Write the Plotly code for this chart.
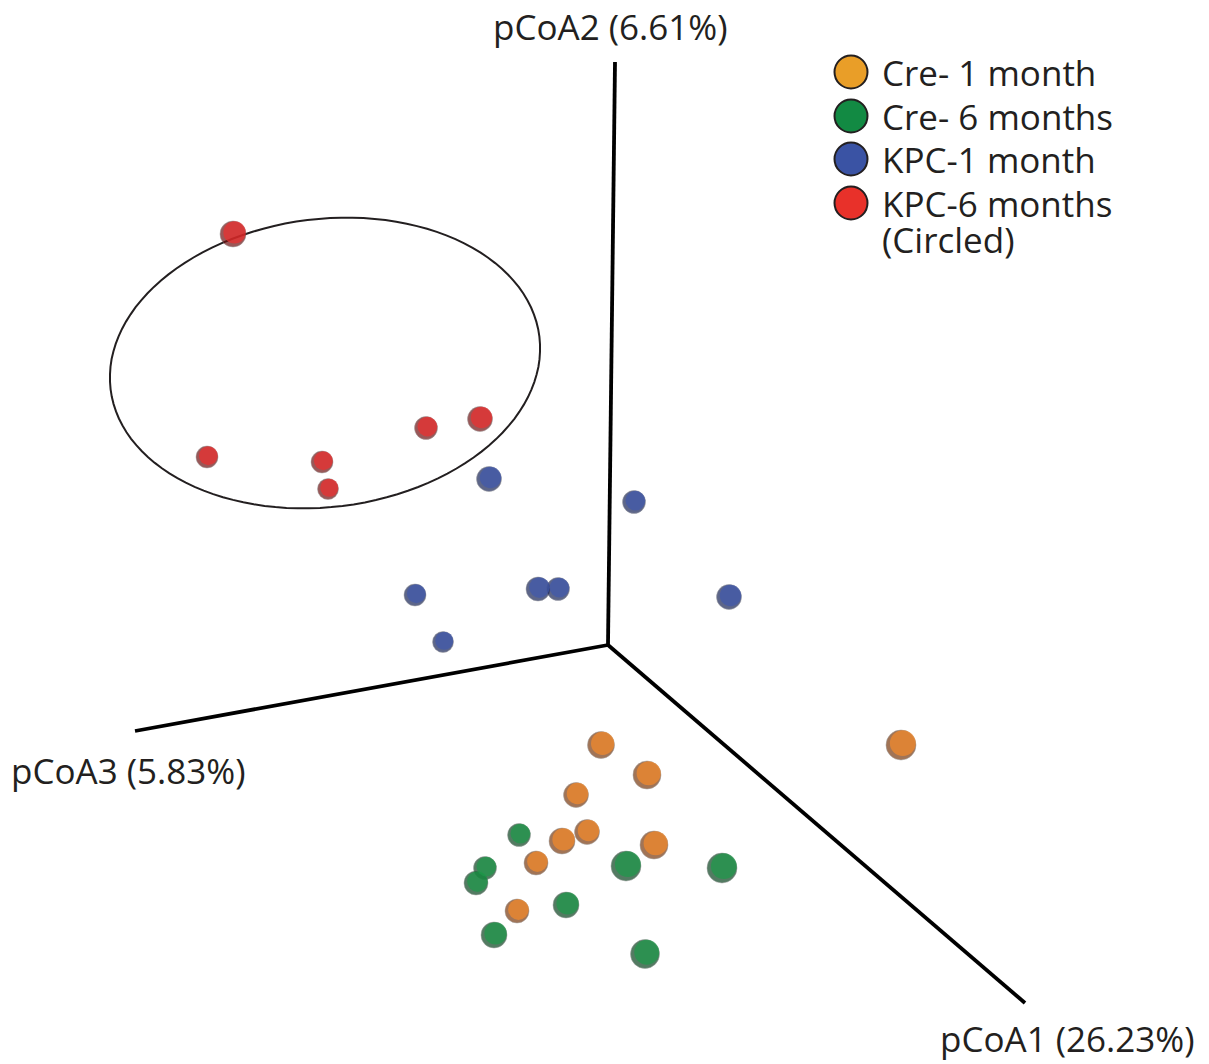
import numpy as np
import plotly.graph_objects as go

W, H = 1209, 1064
PAD = 8  # page body margin

# ---- data (projected positions, px) ----
groups = ["Cre- 1 month", "Cre- 6 months", "KPC-1 month", "KPC-6 months"]
legend_labels = ["Cre- 1 month", "Cre- 6 months", "KPC-1 month", "KPC-6 months"]
legend_note = "(Circled)"

cre1_x = [601, 647, 576, 587, 562, 654, 536, 517, 901]
cre1_y = [745, 775, 795, 832, 841, 845, 863, 911, 745]
cre1_d = [27, 28, 25, 25, 26, 28, 24, 24, 30]

cre6_x = [519, 485, 476, 626, 722, 566, 494, 645]
cre6_y = [835, 868, 883, 866, 868, 905, 935, 954]
cre6_d = [23, 23, 24, 30, 30, 26, 26, 29]

kpc1_x = [489, 634, 415, 538, 558, 443, 729]
kpc1_y = [479, 502, 595, 589, 589, 642, 597]
kpc1_d = [25, 23, 22, 24, 23, 21, 25]

kpc6_x = [233, 207, 322, 328, 426, 480]
kpc6_y = [234, 457, 462, 489, 428, 419]
kpc6_d = [26, 22, 22, 21, 23, 25]

axis_names = ["pCoA1 (26.23%)", "pCoA2 (6.61%)", "pCoA3 (5.83%)"]
origin = (608, 645)
axis_ends_x = [1025, 615, 135]
axis_ends_y = [1003, 62, 731]

sphere_colors = ["#F58A2A", "#1E9A4A", "#4059AC", "#EE2D2D"]
sphere_shadow = ["#7A3A10", "#0B4420", "#1A2658", "#6E1212"]
legend_colors = ["#E99E28", "#128A43", "#3A53A4", "#E8312A"]

series = [(cre1_x, cre1_y, cre1_d), (cre6_x, cre6_y, cre6_d),
          (kpc1_x, kpc1_y, kpc1_d), (kpc6_x, kpc6_y, kpc6_d)]

FONT = "Open Sans"
FS = 35
INK = "#231F20"

fig = go.Figure()

# axis lines
shapes = []
for ex, ey in zip(axis_ends_x, axis_ends_y):
    shapes.append(dict(type="line", xref="x", yref="y", x0=origin[0], y0=origin[1],
                       x1=ex, y1=ey, line=dict(color="#000000", width=3.8), layer="below"))

# ellipse around KPC-6 months
cx, cy, rx, ry, ang = 325, 363, 216, 144, np.deg2rad(-7)
t = np.linspace(0, 2 * np.pi, 121)
ex_ = cx + rx * np.cos(t) * np.cos(ang) - ry * np.sin(t) * np.sin(ang)
ey_ = cy + rx * np.cos(t) * np.sin(ang) + ry * np.sin(t) * np.cos(ang)
path = "M " + " L ".join(f"{a:.1f},{b:.1f}" for a, b in zip(ex_, ey_)) + " Z"
shapes.append(dict(type="path", xref="x", yref="y", path=path,
                   line=dict(color=INK, width=2), layer="below"))

for (xs, ys, ds), name, col, sh in zip(series, groups, sphere_colors, sphere_shadow):
    xs = np.array(xs, float); ys = np.array(ys, float); ds = np.array(ds, float)
    # shadowed body
    fig.add_trace(go.Scatter(
        x=xs, y=ys, mode="markers", name=name, showlegend=False,
        marker=dict(size=ds, color=sh, line=dict(width=1, color="rgba(120,120,120,0.5)"))))
    # lit face
    fig.add_trace(go.Scatter(
        x=xs + ds * 0.06, y=ys - ds * 0.06, mode="markers", name=name, showlegend=False,
        hoverinfo="skip",
        marker=dict(size=ds * 0.86, color=col, line=dict(width=0))))

# custom legend
leg_x = 851
leg_y = [72, 116, 159, 203]
fig.add_trace(go.Scatter(
    x=[leg_x] * 4, y=leg_y, mode="markers", showlegend=False, hoverinfo="skip",
    marker=dict(size=33, color=legend_colors, line=dict(width=2, color=INK))))

annotations = []
for yy, lab in zip(leg_y, legend_labels):
    annotations.append(dict(x=leg_x + 29, y=yy, xref="x", yref="y", text=lab,
                            showarrow=False, xanchor="left", yanchor="middle",
                            font=dict(family=FONT, size=FS, color=INK)))
annotations.append(dict(x=leg_x + 29, y=leg_y[-1] + 36, xref="x", yref="y", text=legend_note,
                        showarrow=False, xanchor="left", yanchor="middle",
                        font=dict(family=FONT, size=FS, color=INK)))

# axis labels
annotations.append(dict(x=610, y=26, xref="x", yref="y", text=axis_names[1], showarrow=False,
                        xanchor="center", yanchor="middle", font=dict(family=FONT, size=FS, color=INK)))
annotations.append(dict(x=9, y=770, xref="x", yref="y", text=axis_names[2], showarrow=False,
                        xanchor="left", yanchor="middle", font=dict(family=FONT, size=FS, color=INK)))
annotations.append(dict(x=1197, y=H, xref="x", yref="y", text=axis_names[0], showarrow=False,
                        xanchor="right", yanchor="bottom", font=dict(family=FONT, size=FS, color=INK)))

fig.update_layout(
    width=W - PAD, height=H - PAD, margin=dict(l=0, r=0, t=0, b=0),
    paper_bgcolor="white", plot_bgcolor="white",
    xaxis=dict(range=[PAD, W], visible=False, fixedrange=True),
    yaxis=dict(range=[H, PAD], visible=False, fixedrange=True),
    shapes=shapes, annotations=annotations,
)

fig.write_html("out.html")
